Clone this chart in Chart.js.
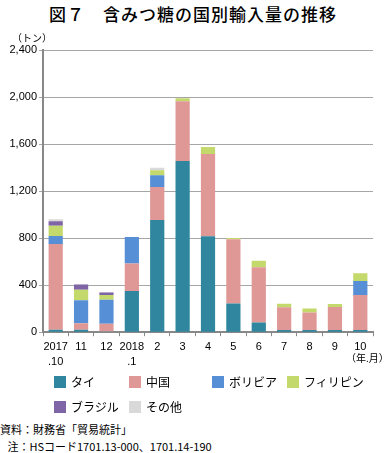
<!DOCTYPE html>
<html>
<head>
<meta charset="utf-8">
<script src="https://cdn.jsdelivr.net/npm/chart.js@4"></script>
<style>
  body { margin: 0; background: #fff; font-family: "Noto Sans CJK JP", sans-serif; }
  #wrap { position: relative; width: 386px; height: 453px; overflow: hidden; }
  #title { position: absolute; top: 3px; left: 0; width: 386px; text-align: center; font-size: 17px; line-height: 22px; font-weight: 500; letter-spacing: 1px; }
  #unit { position: absolute; top: 32px; left: 12px; font-size: 10px; line-height: 12px; }
  #xunit { position: absolute; top: 352px; left: 346px; font-size: 10px; line-height: 12px; white-space: nowrap; }
  #chart { position: absolute; top: 0; left: 0; }
  #legend { position: absolute; top: 374px; left: 54px; display: grid; grid-template-columns: 75px 83px 75px 90px; row-gap: 9px; font-size: 12px; line-height: 16px; }
  .item { display: flex; align-items: center; height: 16px; white-space: nowrap; }
  .box { width: 12px; height: 12px; margin-right: 5px; flex: none; }
  #src { position: absolute; top: 421px; left: 0; font-size: 11px; line-height: 17px; white-space: nowrap; }
</style>
</head>
<body>
<div id="wrap">
  <div id="title">図７　含みつ糖の国別輸入量の推移</div>
  <canvas id="chart" width="386" height="373"></canvas>
  <div id="unit">（トン）</div>
  <div id="xunit">（年.月）</div>
  <div id="legend"></div>
  <div id="src">資料：財務省「貿易統計」<br>&nbsp;&nbsp;&nbsp;注：HSコード1701.13-000、1701.14-190</div>
</div>
<script>
const months = [['2017', '.10'], '11', '12', ['2018', '.1'], '2', '3', '4', '5', '6', '7', '8', '9', '10'];

const thai        = [20, 20, 5, 350, 955, 1455, 815, 245, 83, 18, 18, 18, 18];
const china       = [730, 57, 67, 235, 280, 510, 700, 545, 470, 195, 150, 196, 298];
const bolivia     = [68, 194, 205, 225, 100, 0, 0, 0, 0, 0, 0, 0, 120];
const philippines = [88, 91, 40, 0, 43, 25, 60, 12, 55, 28, 33, 26, 66];
const brazil      = [37, 43, 20, 0, 0, 0, 0, 0, 0, 0, 0, 0, 0];
const others      = [17, 3, 5, 0, 20, 0, 0, 0, 0, 0, 0, 0, 0];

const yTicks = [0, 400, 800, 1200, 1600, 2000, 2400];

const series = [
  { label: 'タイ', data: thai, color: '#2f869e' },
  { label: '中国', data: china, color: '#df9896' },
  { label: 'ボリビア', data: bolivia, color: '#568fd6' },
  { label: 'フィリピン', data: philippines, color: '#c4d96b' },
  { label: 'ブラジル', data: brazil, color: '#8065a6' },
  { label: 'その他', data: others, color: '#d9d9d9' }
];

const ctx = document.getElementById('chart').getContext('2d');
const chart = new Chart(ctx, {
  type: 'bar',
  data: {
    labels: months,
    datasets: series.map(s => ({
      label: s.label,
      data: s.data,
      backgroundColor: s.color,
      barPercentage: 0.56,
      categoryPercentage: 1
    }))
  },
  options: {
    responsive: false,
    animation: false,
    layout: { padding: { top: 50, right: 13, left: 0, bottom: 0 } },
    plugins: { legend: { display: false }, tooltip: { enabled: false } },
    scales: {
      x: {
        stacked: true,
        grid: { offset: true, drawOnChartArea: false, tickLength: 4, color: '#888' },
        border: { color: '#888', width: 2 },
        ticks: { color: '#000', font: { family: 'Liberation Sans', size: 11, lineHeight: 1.4 }, maxRotation: 0, autoSkip: false, padding: 3 }
      },
      y: {
        stacked: true,
        min: 0,
        max: 2400,
        afterFit: scale => { scale.width = 43; },
        afterBuildTicks: scale => { scale.ticks = yTicks.map(v => ({ value: v })); },
        grid: { color: '#a6a6a6', tickLength: 4 },
        border: { color: '#888', width: 2 },
        ticks: {
          color: '#000',
          font: { family: 'Liberation Sans', size: 11 },
          padding: 2,
          callback: v => v.toLocaleString('en-US')
        }
      }
    }
  }
});

const legend = document.getElementById('legend');
chart.data.datasets.forEach(ds => {
  const item = document.createElement('div');
  item.className = 'item';
  item.innerHTML = '<span class="box" style="background:' + ds.backgroundColor + '"></span>' + ds.label;
  legend.appendChild(item);
});
</script>
</body>
</html>
